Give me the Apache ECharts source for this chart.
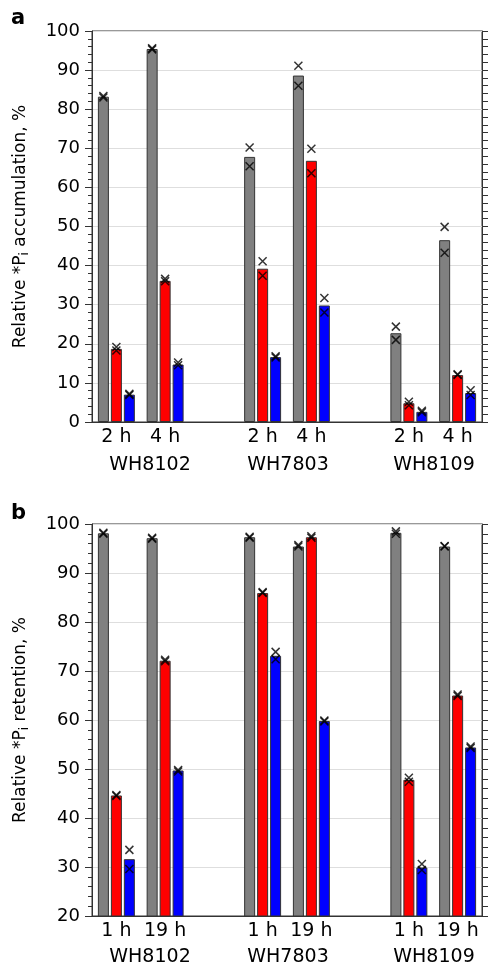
<!DOCTYPE html>
<html><head><meta charset="utf-8">
<script src="https://cdn.jsdelivr.net/npm/echarts@6/dist/echarts.min.js"></script>
<style>html,body{margin:0;padding:0;background:#fff}#c{width:488px;height:967px}</style>
</head><body><div id="c"></div>
<script>
// ---------- data ----------
const catsA = ['2 h', '4 h', '', '2 h', '4 h', '', '2 h', '4 h'];
const catsB = ['1 h', '19 h', '', '1 h', '19 h', '', '1 h', '19 h'];
const strains = ['WH8102', 'WH7803', 'WH8109'];

// Panel a: accumulation (means and two replicates)
const aGray  = [83.2, 95.4, '-', 67.8, 88.6, '-', 22.7, 46.5];
const aGray1 = [83.4, 95.6, '-', 70.2, 91.1, '-', 24.4, 49.9];
const aGray2 = [83.0, 95.3, '-', 65.4, 86.0, '-', 21.0, 43.3];
const aRed   = [18.7, 36.1, '-', 39.2, 66.8, '-', 4.8, 12.0];
const aRed1  = [19.2, 36.6, '-', 41.1, 69.9, '-', 5.2, 12.2];
const aRed2  = [18.3, 36.0, '-', 37.4, 63.6, '-', 4.3, 12.0];
const aBlue  = [7.0, 14.7, '-', 16.6, 29.8, '-', 2.6, 7.4];
const aBlue1 = [7.2, 15.2, '-', 16.8, 31.7, '-', 2.9, 8.1];
const aBlue2 = [6.9, 14.5, '-', 16.5, 28.0, '-', 2.5, 6.9];

// Panel b: retention
const bGray  = [98.1, 97.1, '-', 97.3, 95.4, '-', 98.2, 95.4];
const bGray1 = [98.2, 97.2, '-', 97.4, 95.7, '-', 98.5, 95.5];
const bGray2 = [98.0, 97.0, '-', 97.2, 95.4, '-', 98.0, 95.4];
const bRed   = [44.6, 72.1, '-', 85.9, 97.3, '-', 47.8, 65.0];
const bRed1  = [44.7, 72.3, '-', 86.1, 97.5, '-', 48.2, 65.2];
const bRed2  = [44.5, 72.0, '-', 85.9, 97.2, '-', 47.4, 64.9];
const bBlue  = [31.6, 49.7, '-', 73.1, 59.8, '-', 29.9, 54.4];
const bBlue1 = [33.5, 49.8, '-', 73.9, 59.9, '-', 30.6, 54.6];
const bBlue2 = [29.6, 49.5, '-', 72.4, 59.7, '-', 29.4, 54.3];

const yRangeA = [0, 100];
const yRangeB = [20, 100];

// ---------- chart ----------
const FONT = 'DejaVu Sans';
const AX = '#333';
const chart = echarts.init(document.getElementById('c'), null, {renderer: 'canvas'});

function reps(r1, r2) {
  const out = [];
  r1.forEach((v, i) => { if (v !== '-') out.push([i, v]); });
  r2.forEach((v, i) => { if (v !== '-') out.push([i, v]); });
  return out;
}
const X = 'path://M0,0L10,10M10,0L0,10';

function xAx(gi, cats) {
  return {
    type: 'category', gridIndex: gi, data: cats,
    axisLine: {show: true, lineStyle: {color: AX, width: 1}},
    axisTick: {show: false},
    axisLabel: {color: '#000', fontFamily: FONT, fontSize: 19, margin: 6, interval: 0},
    splitLine: {show: false}
  };
}
function yAx(gi, rng, name) {
  return {
    type: 'value', gridIndex: gi, min: rng[0], max: rng[1], interval: 10,
    position: 'left',
    name: name, nameLocation: 'middle', nameGap: 61,
    nameTextStyle: {color: '#000', fontFamily: FONT, fontSize: 17,
      rich: {s: {fontFamily: FONT, fontSize: 12, color: '#000', verticalAlign: 'bottom', padding: [9, 0, 0, 0]}}},
    axisLine: {show: true, lineStyle: {color: AX, width: 1}},
    axisTick: {show: true, inside: false, length: 7, lineStyle: {color: AX}},
    minorTick: {show: true, splitNumber: 5, length: 4, lineStyle: {color: AX}},
    axisLabel: {color: '#000', fontFamily: FONT, fontSize: 18, margin: 12},
    splitLine: {show: true, lineStyle: {color: '#dedede', width: 1}}
  };
}
function yAxR(gi, rng) {
  return {
    type: 'value', gridIndex: gi, min: rng[0], max: rng[1], interval: 10,
    position: 'right',
    axisLine: {show: true, lineStyle: {color: AX, width: 1}},
    axisTick: {show: true, inside: false, length: 6, lineStyle: {color: AX}},
    minorTick: {show: true, splitNumber: 5, length: 6, lineStyle: {color: AX}},
    axisLabel: {show: false},
    splitLine: {show: false}
  };
}
function bar(xi, yi, data, color) {
  return {
    type: 'bar', xAxisIndex: xi, yAxisIndex: yi, data: data,
    barWidth: 11, barGap: '18%',
    itemStyle: {color: color, borderColor: '#333', borderWidth: 1},
    animation: false, z: 2
  };
}
function sc(xi, yi, data, off) {
  return {
    type: 'scatter', xAxisIndex: xi, yAxisIndex: yi, data: data,
    symbol: X, symbolSize: 8, symbolOffset: [off, 0],
    itemStyle: {color: 'none', borderColor: '#000', borderWidth: 1.5},
    animation: false, z: 5, silent: true
  };
}

const option = {
  backgroundColor: '#fff',
  animation: false,
  grid: [
    {left: 92, top: 31, width: 390, height: 391, show: true, borderColor: AX, borderWidth: 1, backgroundColor: 'transparent'},
    {left: 92, top: 524, width: 390, height: 392, show: true, borderColor: AX, borderWidth: 1, backgroundColor: 'transparent'}
  ],
  xAxis: [xAx(0, catsA), xAx(1, catsB)],
  yAxis: [
    yAx(0, yRangeA, 'Relative *P{s|i} accumulation, %'),
    yAx(1, yRangeB, 'Relative *P{s|i} retention, %'),
    yAxR(0, yRangeA),
    yAxR(1, yRangeB)
  ],
  series: [
    bar(0, 0, aGray, '#808080'), bar(0, 0, aRed, '#ff0000'), bar(0, 0, aBlue, '#0000ff'),
    sc(0, 0, reps(aGray1, aGray2), -13), sc(0, 0, reps(aRed1, aRed2), 0), sc(0, 0, reps(aBlue1, aBlue2), 13),
    bar(1, 1, bGray, '#808080'), bar(1, 1, bRed, '#ff0000'), bar(1, 1, bBlue, '#0000ff'),
    sc(1, 1, reps(bGray1, bGray2), -13), sc(1, 1, reps(bRed1, bRed2), 0), sc(1, 1, reps(bBlue1, bBlue2), 13)
  ],
  graphic: [
    {type: 'text', left: 11, top: 8, style: {text: 'a', font: 'bold 21px "DejaVu Sans"', fill: '#000'}},
    {type: 'text', left: 11, top: 503, style: {text: 'b', font: 'bold 21px "DejaVu Sans"', fill: '#000'}},
    {type: 'text', x: 150, y: 465, style: {text: strains[0], font: '19px "DejaVu Sans"', fill: '#000', align: 'center', verticalAlign: 'middle'}},
    {type: 'text', x: 288, y: 465, style: {text: strains[1], font: '19px "DejaVu Sans"', fill: '#000', align: 'center', verticalAlign: 'middle'}},
    {type: 'text', x: 434, y: 465, style: {text: strains[2], font: '19px "DejaVu Sans"', fill: '#000', align: 'center', verticalAlign: 'middle'}},
    {type: 'text', x: 150, y: 957, style: {text: strains[0], font: '19px "DejaVu Sans"', fill: '#000', align: 'center', verticalAlign: 'middle'}},
    {type: 'text', x: 288, y: 957, style: {text: strains[1], font: '19px "DejaVu Sans"', fill: '#000', align: 'center', verticalAlign: 'middle'}},
    {type: 'text', x: 434, y: 957, style: {text: strains[2], font: '19px "DejaVu Sans"', fill: '#000', align: 'center', verticalAlign: 'middle'}}
  ]
};
chart.setOption(option);
</script>
</body></html>
